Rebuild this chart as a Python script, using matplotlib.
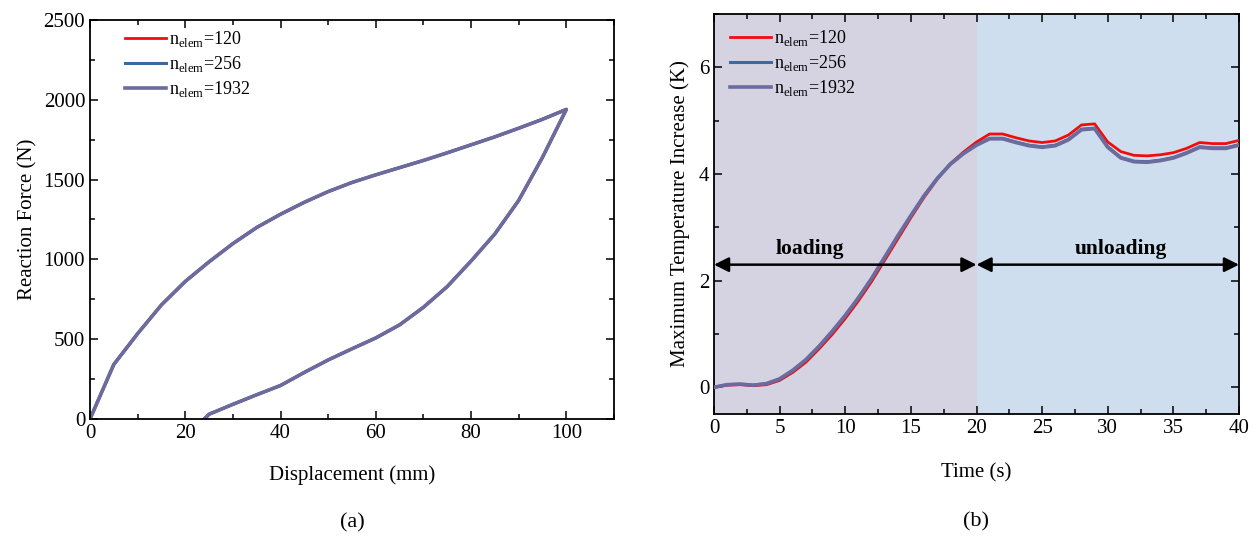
import matplotlib
matplotlib.use("Agg")
import matplotlib.pyplot as plt
from matplotlib.ticker import MultipleLocator

plt.rcParams['font.family'] = ['Liberation Serif', 'DejaVu Serif']
plt.rcParams['mathtext.fontset'] = 'custom'
plt.rcParams['mathtext.rm'] = 'Liberation Serif'

# ---------------- data (a) ----------------
disp_load = [0, 5, 10, 15, 20, 25, 30, 35, 40, 45, 50, 55, 60, 65, 70, 75, 80, 85, 90, 95, 100]
force_load = [0, 342, 535, 715, 862, 985, 1099, 1200, 1283, 1358, 1425, 1482, 1530, 1575, 1620, 1668, 1718, 1768, 1822, 1878, 1940]
disp_unload = [100, 95, 90, 85, 80, 75, 70, 65, 60, 55, 50, 45, 40, 35, 30, 25, 24]
force_unload = [1940, 1640, 1370, 1160, 990, 830, 700, 590, 508, 440, 370, 292, 210, 152, 92, 30, 0]

# ---------------- data (b) ----------------
time = list(range(0, 41))
temp_120 = [0.00, 0.04, 0.05, 0.03, 0.05, 0.13, 0.28, 0.47, 0.72, 0.99, 1.29, 1.62, 1.98, 2.38, 2.78, 3.18, 3.56, 3.90, 4.19, 4.41, 4.60,
            4.75, 4.75, 4.68, 4.62, 4.59, 4.62, 4.73, 4.92, 4.94, 4.60, 4.42, 4.35, 4.34, 4.36, 4.40, 4.48, 4.59, 4.57, 4.57, 4.63]
temp_256 = [0.00, 0.05, 0.06, 0.04, 0.07, 0.15, 0.31, 0.51, 0.76, 1.04, 1.34, 1.67, 2.03, 2.43, 2.83, 3.22, 3.59, 3.92, 4.19, 4.39, 4.55,
            4.67, 4.67, 4.60, 4.54, 4.51, 4.54, 4.65, 4.84, 4.86, 4.51, 4.31, 4.24, 4.23, 4.26, 4.31, 4.40, 4.51, 4.49, 4.49, 4.55]
temp_1932 = [0.00, 0.05, 0.06, 0.04, 0.07, 0.16, 0.32, 0.52, 0.77, 1.05, 1.35, 1.68, 2.04, 2.44, 2.84, 3.22, 3.59, 3.91, 4.18, 4.38, 4.54,
             4.66, 4.66, 4.59, 4.53, 4.50, 4.53, 4.64, 4.83, 4.85, 4.50, 4.30, 4.23, 4.22, 4.25, 4.30, 4.39, 4.50, 4.48, 4.48, 4.54]

labels = [r'n$_{\mathrm{elem}}$=120', r'n$_{\mathrm{elem}}$=256', r'n$_{\mathrm{elem}}$=1932']
colors = ['#f20d0d', '#3b6aa0', '#6b6b9e']
widths = [2.0, 2.2, 2.6]

fig = plt.figure(figsize=(12.57, 5.38), dpi=100)
ax1 = fig.add_axes([90/1257, 1-419/538, 524/1257, 399/538])
ax2 = fig.add_axes([714/1257, 1-414/538, 525/1257, 400/538])

def style(ax):
    ax.tick_params(which='both', direction='in', top=True, right=True, labelsize=15, width=1.1)
    ax.tick_params(which='major', length=6)
    ax.tick_params(which='minor', length=3.5)
    for s in ax.spines.values():
        s.set_linewidth(1.3)

# (a)
xa = disp_load + disp_unload[1:]
ya = force_load + force_unload[1:]
for lab, c, w in zip(labels, colors, widths):
    ax1.plot(xa, ya, color=c, lw=w, label=lab)
ax1.set_xlim(0, 110)
ax1.set_ylim(0, 2500)
ax1.xaxis.set_major_locator(MultipleLocator(20))
ax1.xaxis.set_minor_locator(MultipleLocator(10))
ax1.yaxis.set_major_locator(MultipleLocator(500))
ax1.yaxis.set_minor_locator(MultipleLocator(250))
style(ax1)
ax1.set_xlabel('Displacement (mm)', fontsize=15, labelpad=16)
ax1.set_ylabel('Reaction Force (N)', fontsize=15, labelpad=4)
ax1.legend(loc='upper left', frameon=False, fontsize=13, handlelength=2.3,
           handletextpad=0.15, labelspacing=0.28, bbox_to_anchor=(0.035, 1.0175))
ax1.text(0.5, -0.26, '(a)', transform=ax1.transAxes, ha='center', va='center', fontsize=16)

# (b)
ax2.axvspan(0, 20, color='#d5d3e2', zorder=0, lw=0)
ax2.axvspan(20, 40, color='#cfdeee', zorder=0, lw=0)
temps = [temp_120, temp_256, temp_1932]
for t, lab, c, w in zip(temps, labels, colors, widths):
    ax2.plot(time, t, color=c, lw=w, label=lab, zorder=3)
ax2.set_xlim(0, 40)
ax2.set_ylim(-0.5, 7)
ax2.xaxis.set_major_locator(MultipleLocator(5))
ax2.xaxis.set_minor_locator(MultipleLocator(2.5))
ax2.yaxis.set_major_locator(MultipleLocator(2))
ax2.yaxis.set_minor_locator(MultipleLocator(1))
style(ax2)
ax2.set_xlabel('Time (s)', fontsize=15, labelpad=18)
ax2.set_ylabel('Maximum Temperature Increase (K)', fontsize=15, labelpad=6)
ax2.legend(loc='upper left', frameon=False, fontsize=13, handlelength=2.3,
           handletextpad=0.15, labelspacing=0.28, bbox_to_anchor=(-0.001, 1.005))
arrow_y = 2.3
for x0, x1 in [(0, 20), (20, 40)]:
    ax2.annotate('', xy=(x1, arrow_y), xytext=(x0, arrow_y),
                 arrowprops=dict(arrowstyle='<|-|>', color='black', lw=1.8,
                                 mutation_scale=22, shrinkA=0, shrinkB=0),
                 zorder=4, annotation_clip=False)
ax2.text(7.3, arrow_y + 0.1, 'loading', ha='center', va='bottom', fontsize=15.5, fontweight='bold')
ax2.text(31.0, arrow_y + 0.1, 'unloading', ha='center', va='bottom', fontsize=15.5, fontweight='bold')
ax2.text(0.5, -0.27, '(b)', transform=ax2.transAxes, ha='center', va='center', fontsize=16)

fig.savefig('out.png', dpi=100)
